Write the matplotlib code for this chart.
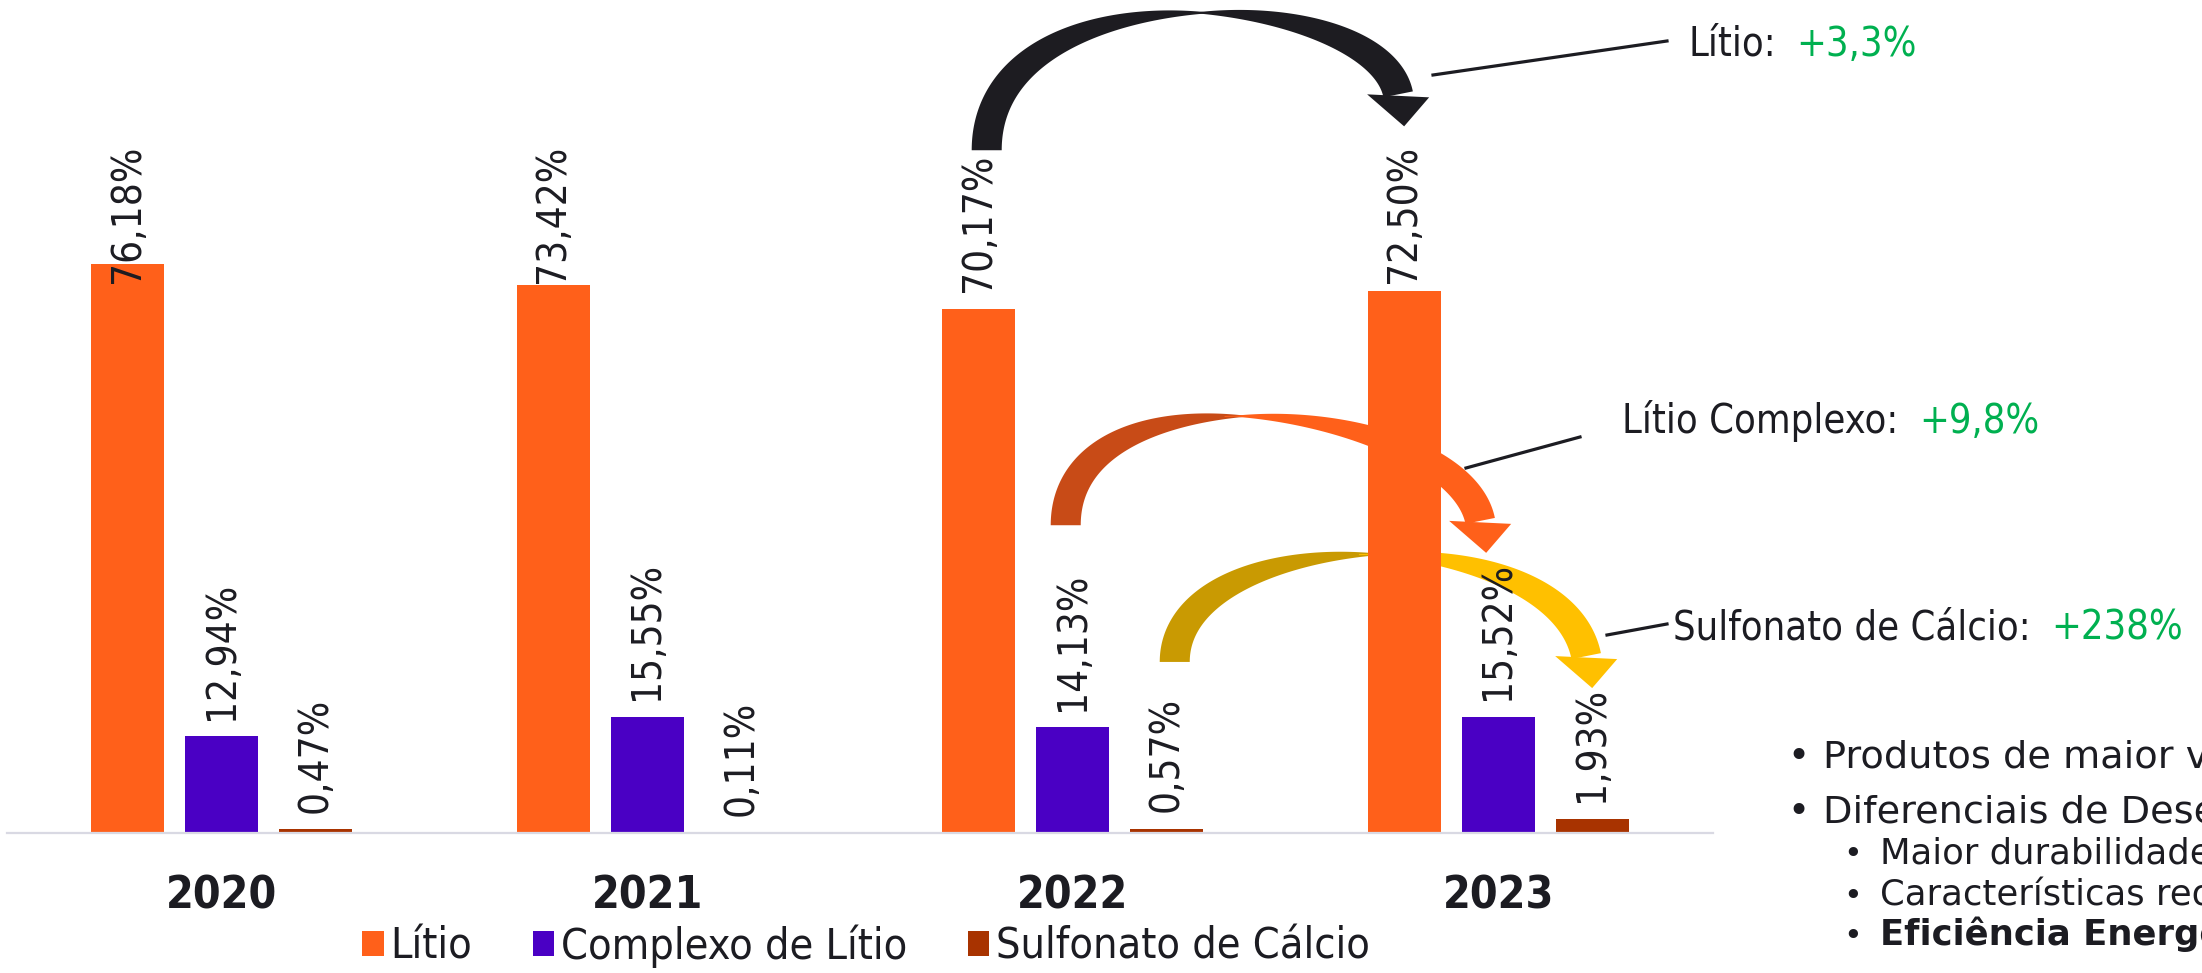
import numpy as np
import matplotlib
matplotlib.use("Agg")
import matplotlib.pyplot as plt
from matplotlib import font_manager as fm
from matplotlib.patches import Polygon
from matplotlib.lines import Line2D

# ---- data ----
years = ['2020', '2021', '2022', '2023']
series = ['Lítio', 'Complexo de Lítio', 'Sulfonato de Cálcio']
litio = [76.18, 73.42, 70.17, 72.50]
complexo = [12.94, 15.55, 14.13, 15.52]
sulfonato = [0.47, 0.11, 0.57, 1.93]

growth_names = ['Lítio:', 'Lítio Complexo:', 'Sulfonato de Cálcio:']
growth_pcts = ['+3,3%', '+9,8%', '+238%']

bullets = ['Produtos de maior valor agregado', 'Diferenciais de Desempenho:']
sub_bullets = ['Maior durabilidade', 'Características reológicas superiores',
               'Eficiência Energética']

colors = ['#FF601A', '#4A00C4', '#A83300']
DARK = '#1C1C22'
GREEN = '#00B050'

# ---- fonts ----
W, H = 2202, 973
_cond = fm.findfont(fm.FontProperties(family='DejaVu Sans', stretch='condensed'))
STRETCH = 'condensed' if 'Condensed' in _cond else 'normal'
K = 1.0 if STRETCH == 'condensed' else 0.9
plt.rcParams['font.family'] = ['DejaVu Sans']

fig = plt.figure(figsize=(W / 100, H / 100), dpi=100)

# plot area in pixels (baseline, top, left, right), 7.47 px per percent point
BASE, TOP, LEFT, RIGHT = 833, 145, 7, 1713
ax = fig.add_axes([LEFT / W, 1 - BASE / H, (RIGHT - LEFT) / W, (BASE - TOP) / H])
ax.set_xlim(-0.505, 3.505)
ax.set_ylim(0, (BASE - TOP) / 7.47)
ax.patch.set_alpha(0)

x = np.arange(len(years))
offs = [-0.221, 0.0, 0.221]
bw = 0.172
handles = []
labels = []
for i, vals in enumerate([litio, complexo, sulfonato]):
    b = ax.bar(x + offs[i], vals, bw, color=colors[i], label=series[i], zorder=2)
    handles.append(b)
    for xi, v in zip(x + offs[i], vals):
        t = ax.annotate(f'{v:.2f}%'.replace('.', ','), xy=(xi, v), xytext=(0, 12),
                        textcoords='offset points', rotation=90, ha='center', va='bottom',
                        fontsize=29 * K, fontstretch=STRETCH, color=DARK, zorder=4,
                        annotation_clip=False)
        labels.append(t)

for s in ['top', 'left', 'right']:
    ax.spines[s].set_visible(False)
ax.spines['bottom'].set_color('#D9D9E3')
ax.spines['bottom'].set_linewidth(1.6)
ax.set_yticks([])
ax.set_xticks(x)
ax.set_xticklabels(years, fontsize=32 * K, fontweight='bold', fontstretch=STRETCH, color=DARK)
ax.tick_params(axis='x', length=0, pad=30)

fig.legend(handles, series, loc='center', bbox_to_anchor=(866 / W, 1 - 946 / H), ncol=3,
           frameon=False, prop=fm.FontProperties(size=31 * K, stretch=STRETCH),
           handlelength=0.5, handleheight=0.5, handletextpad=0.16, columnspacing=1.4,
           labelcolor=DARK, borderaxespad=0, borderpad=0)


# ---- curved growth arrows (2022 -> 2023 for each series) ----
def curved_arrow(x0, y0, x1, y1, ytop, r, back, front, width=30, head_w=62, head_l=32):
    to_px = ax.transData.transform
    to_data = ax.transData.inverted().transform
    p0 = to_px((x0, y0))
    tip = to_px((x1, y1))
    apex = to_px((x0, ytop))[1]
    d = np.array([0.2, -1.0])
    d /= np.hypot(*d)
    base = tip - np.array([6.0, -head_l])
    t = np.linspace(0, 1, 400)[:, None]

    def curve(h):
        P1 = p0 + np.array([0, h * r])
        P2 = base - d * h / r
        pts = (1 - t) ** 3 * p0 + 3 * (1 - t) ** 2 * t * P1 + 3 * (1 - t) * t ** 2 * P2 + t ** 3 * base
        der = 3 * (1 - t) ** 2 * (P1 - p0) + 6 * (1 - t) * t * (P2 - P1) + 3 * t ** 2 * (base - P2)
        return pts, der

    lo, hi = 0.0, 3000.0
    for _ in range(60):
        mid = (lo + hi) / 2
        if curve(mid)[0][:, 1].max() < apex:
            lo = mid
        else:
            hi = mid
    pts, der = curve(lo)
    tang = der / np.linalg.norm(der, axis=1)[:, None]
    nrm = np.column_stack([-tang[:, 1], tang[:, 0]])
    tt = t[:, 0]
    tm = tt[np.argmax(pts[:, 1])]
    wmin = 2.0
    wb = np.maximum(wmin + (width - wmin) * (1 - (tt / tm) ** 2), 1)
    wf = np.maximum(wmin + (width - wmin) * (1 - ((1 - tt) / (1 - tm)) ** 2), 1)
    for mask, wv, col in [(tt <= tm + 0.03, wb, back), (tt >= tm - 0.03, wf, front)]:
        left = pts[mask] + nrm[mask] * wv[mask, None] / 2
        right = pts[mask] - nrm[mask] * wv[mask, None] / 2
        poly = np.vstack([left, right[::-1]])
        ax.add_patch(Polygon(to_data(poly), closed=True, fc=col, ec='none',
                             zorder=1, clip_on=False))
    head = np.array([base - [head_w / 2, 0], base + [head_w / 2, -3], tip])
    ax.add_patch(Polygon(to_data(head), closed=True, fc=front, ec='none',
                         zorder=1, clip_on=False))


PX = 1706 / 4.01  # pixels per category unit
# (series index, tail y, tip y, apex y, skew, tail/tip x shift in px, back, front)
arrow_specs = [
    (0, 91.4, 94.6, 109.8, 1.3, (8, 0), '#1D1C21', '#1D1C21'),
    (1, 41.2, 37.5, 55.8, 1.2, (-7, -12), '#C84B17', '#FF601A'),
    (2, 22.9, 19.4, 37.3, 1.0, (8, 0), '#C99A02', '#FFC000'),
]
for si, ya, yb, yt, rr, (dx0, dx1), cb, cf in arrow_specs:
    curved_arrow(x[2] + offs[si] + dx0 / PX, ya, x[3] + offs[si] + dx1 / PX, yb, yt, rr, cb, cf)

# ---- callouts ----
callout_lines = [((1433, 75), (1667, 41)), ((1466, 468), (1580, 437)), ((1607, 635), (1667, 624))]
callout_text = [(1688, 56), (1622, 433), (1673, 639)]
for (p, q) in callout_lines:
    fig.add_artist(Line2D([p[0] / W, q[0] / W], [1 - p[1] / H, 1 - q[1] / H],
                          transform=fig.transFigure, color=DARK, lw=2.3))
name_texts = []
for name, (tx, ty) in zip(growth_names, callout_text):
    name_texts.append(fig.text(tx / W, 1 - ty / H, name, fontsize=28.5 * K,
                               fontstretch=STRETCH, color=DARK, va='baseline', ha='left'))

# ---- bullets ----
for txt, by in zip(bullets, [768, 823]):
    fig.text(1787 / W, 1 - by / H, '•', fontsize=27, color=DARK, va='baseline')
    fig.text(1823 / W, 1 - by / H, txt, fontsize=27.5, color=DARK, va='baseline')
for j, (txt, by) in enumerate(zip(sub_bullets, [863, 905, 945])):
    fig.text(1843 / W, 1 - by / H, '•', fontsize=23, color=DARK, va='baseline')
    fig.text(1880 / W, 1 - by / H, txt, fontsize=25.5, color=DARK, va='baseline',
             fontweight='bold' if j == 2 else 'normal')

# ---- layout pass: clamp labels to plot top, attach growth values ----
fig.canvas.draw()
r = fig.canvas.get_renderer()
top_px = ax.bbox.y1
for t in labels:
    bb = t.get_window_extent(r)
    if bb.y1 > top_px:
        t.xyann = (0, 12 - (bb.y1 - top_px) * 72 / fig.dpi)
for nt, pct, (tx, ty) in zip(name_texts, growth_pcts, callout_text):
    bb = nt.get_window_extent(r)
    fig.text((bb.x1 + 21) / W, 1 - ty / H, pct, fontsize=28.5 * K, fontstretch=STRETCH,
             color=GREEN, va='baseline', ha='left')

fig.savefig('out.png', dpi=100)
